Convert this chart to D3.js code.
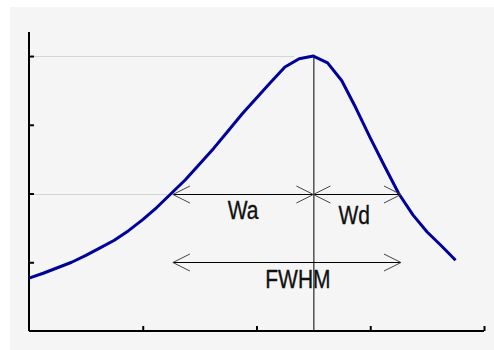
<!DOCTYPE html>
<html>
<head>
<meta charset="utf-8">
<script src="https://cdn.jsdelivr.net/npm/d3@7"></script>
<style>
  html, body { margin: 0; padding: 0; background: #ffffff; }
  svg { display: block; }
  text { font-family: "Liberation Sans", Arial, sans-serif; fill: #111; }
</style>
</head>
<body>
<svg id="chart" width="494" height="350"></svg>
<script>
// Peak profile sampled every 0.125 along the horizontal axis
const xValues = [0, 0.125, 0.25, 0.375, 0.5, 0.625, 0.75, 0.875, 1, 1.125, 1.25, 1.375, 1.5, 1.625,
  1.75, 1.875, 2, 2.125, 2.25, 2.375, 2.5, 2.625, 2.75, 2.875, 3, 3.125, 3.25, 3.375, 3.5, 3.625, 3.75];
const yValues = [0.77, 0.84, 0.92, 1.0, 1.1, 1.21, 1.32, 1.46, 1.62, 1.8, 2.0, 2.2, 2.43, 2.66,
  2.91, 3.16, 3.39, 3.62, 3.84, 3.96, 4.0, 3.9, 3.64, 3.24, 2.81, 2.4, 2.0, 1.69, 1.44, 1.24, 1.03];

// Axis ticks
const xTicks = [1, 2, 3, 4];
const yTicks = [1, 2, 3, 4];

// Width markers: peak position, half-maximum crossings, levels
const peakX = 2.5;
const peakY = 4.0;
const halfY = 2.0;
const halfLeftX = 1.265;
const halfRightX = 3.27;
const fwhmLevel = 1.0;
const widthLabels = ["Wa", "Wd", "FWHM"];

const svg = d3.select("#chart");

// Panel background
svg.append("rect")
  .attr("x", 10).attr("y", 7)
  .attr("width", 484).attr("height", 343)
  .attr("fill", "#f5f5f5");

const x = d3.scaleLinear().domain([0, 4]).range([29, 484]);
const y = d3.scaleLinear().domain([0, 4.35]).range([331, 32]);

// Reference lines at peak height and half height, left of the curve
const refLines = [
  { level: peakY, to: peakX - 0.17 },
  { level: halfY, to: halfLeftX - 0.05 }
];
svg.selectAll("line.ref").data(refLines).join("line")
  .attr("class", "ref")
  .attr("x1", x(0) + 5).attr("x2", d => x(d.to))
  .attr("y1", d => Math.round(y(d.level)) + 0.5)
  .attr("y2", d => Math.round(y(d.level)) + 0.5)
  .attr("stroke", "#d4d4d4").attr("stroke-width", 1);

// Axes
const yAxis = d3.axisRight(y).tickValues(yTicks).tickSize(5).tickFormat("");
const gy = svg.append("g").attr("transform", `translate(${x(0)},0)`).call(yAxis);
const xAxis = d3.axisTop(x).tickValues(xTicks).tickSize(5).tickFormat("");
const gx = svg.append("g").attr("transform", `translate(0,${y(0)})`).call(xAxis);
[gx, gy].forEach(g => {
  g.select(".domain").attr("stroke", "#000").attr("stroke-width", 2);
  g.selectAll(".tick line").attr("stroke", "#000").attr("stroke-width", 2);
});
gy.select(".domain").attr("d", `M0,${y(0)}V${y(4.35)}`);
gx.select(".domain").attr("d", `M${x(0)},0H${x(4)}`);

// Vertical line through the peak
svg.append("line")
  .attr("x1", x(peakX) + 0.5).attr("x2", x(peakX) + 0.5)
  .attr("y1", y(peakY)).attr("y2", y(0))
  .attr("stroke", "#000").attr("stroke-width", 1);

// Peak curve
const pts = xValues.map((v, i) => [v, yValues[i]]);
svg.append("path")
  .datum(pts)
  .attr("fill", "none")
  .attr("stroke", "#00009a")
  .attr("stroke-width", 3)
  .attr("stroke-linejoin", "round")
  .attr("d", d3.line().x(d => x(d[0])).y(d => y(d[1])));

// Double-headed width arrows
const arrows = [
  { from: halfLeftX, to: peakX, level: halfY },
  { from: peakX, to: halfRightX, level: halfY },
  { from: halfLeftX, to: halfRightX, level: fwhmLevel }
];
const headLen = 17, headHalf = 8.5;
arrows.forEach(a => {
  const x1 = x(a.from), x2 = x(a.to), yy = Math.round(y(a.level)) + 0.5;
  svg.append("line")
    .attr("x1", x1).attr("x2", x2).attr("y1", yy).attr("y2", yy)
    .attr("stroke", "#000").attr("stroke-width", 1);
  const head = d3.line();
  svg.append("path")
    .attr("d", head([[x1 + headLen, yy - headHalf], [x1, yy], [x1 + headLen, yy + headHalf]]))
    .attr("fill", "none").attr("stroke", "#444").attr("stroke-width", 1);
  svg.append("path")
    .attr("d", head([[x2 - headLen, yy - headHalf], [x2, yy], [x2 - headLen, yy + headHalf]]))
    .attr("fill", "none").attr("stroke", "#444").attr("stroke-width", 1);
});

// Width labels, centred under their arrows
const labelPos = [
  { text: widthLabels[0], cx: (x(halfLeftX) + x(peakX)) / 2, by: 219 },
  { text: widthLabels[1], cx: (x(peakX) + x(halfRightX)) / 2 - 3, by: 224 },
  { text: widthLabels[2], cx: (x(halfLeftX) + x(halfRightX)) / 2 + 11, by: 288 }
];
labelPos.forEach(l => {
  svg.append("text")
    .attr("text-anchor", "middle")
    .attr("transform", `translate(${l.cx},${l.by}) scale(1,1.2)`)
    .attr("font-size", 21)
    .attr("stroke", "#111").attr("stroke-width", 0.3)
    .text(l.text);
});
</script>
</body>
</html>
